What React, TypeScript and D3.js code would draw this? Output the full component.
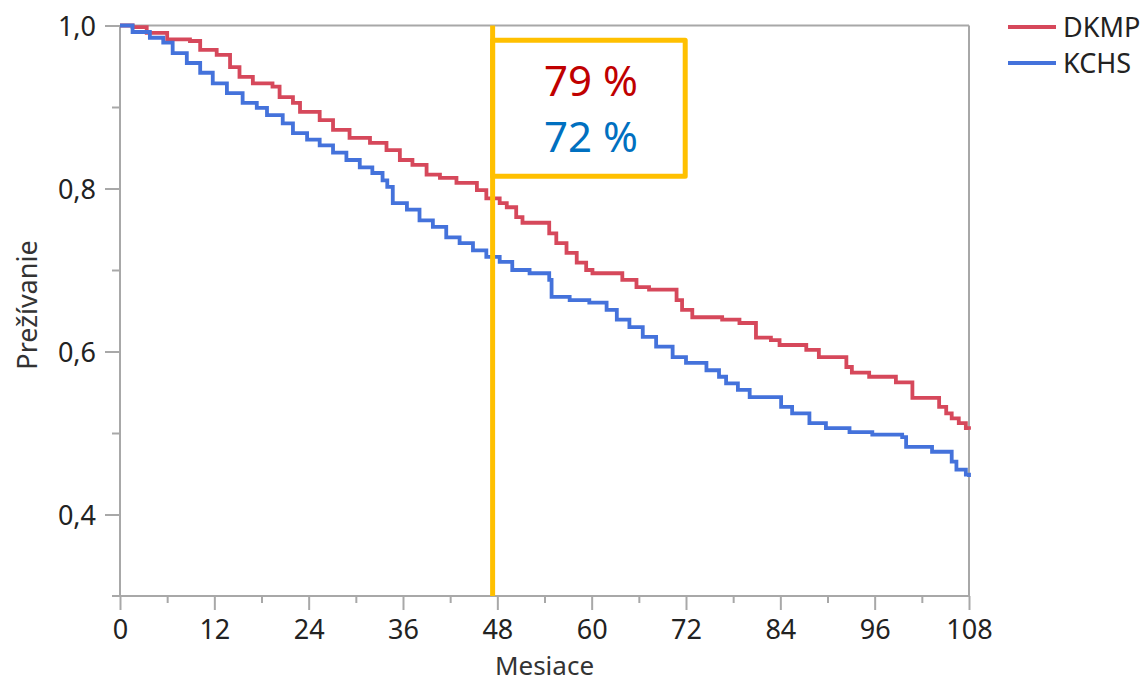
import React, { useEffect, useRef } from 'react'
import * as d3 from 'd3'

// Kaplan-Meier prezivanie, odcitane z obrazku
const dkmpMonths = [0,1.6,3.4,6.0,8.9,10.2,12.3,14.0,15.2,16.9,19.4,20.3,22.0,22.9,25.4,27.1,29.2,31.8,33.9,35.6,37.2,39.0,40.7,42.8,45.4,46.6,48.3,49.2,50.4,51.2,54.6,55.5,56.8,58.1,59.3,60.1,63.9,65.7,67.3,70.8,71.5,72.8,76.6,78.8,80.9,82.8,83.9,87.3,88.9,92.4,93.1,95.3,98.7,100.8,104.2,105.1,105.8,106.7,107.6,108]
const dkmpSurv = [1.0,0.998,0.991,0.983,0.981,0.970,0.964,0.949,0.937,0.929,0.925,0.912,0.905,0.894,0.884,0.872,0.862,0.856,0.847,0.835,0.829,0.817,0.813,0.807,0.798,0.788,0.782,0.777,0.765,0.758,0.745,0.733,0.721,0.709,0.700,0.696,0.688,0.679,0.676,0.663,0.651,0.642,0.639,0.635,0.617,0.614,0.608,0.602,0.593,0.581,0.574,0.569,0.562,0.543,0.532,0.524,0.518,0.512,0.506,0.504]

const kchsMonths = [0,1.6,3.8,5.5,6.7,8.5,10.2,11.8,13.6,15.6,17.4,18.7,20.7,22.0,23.8,25.4,27.1,28.8,30.5,32.1,33.4,34.0,34.7,36.5,38.1,39.8,41.5,43.2,44.9,46.6,48.3,49.9,52.1,54.6,54.9,57.2,59.7,61.9,63.2,64.8,66.5,68.2,70.3,72.0,74.6,76.2,77.1,78.6,80.1,84.1,85.5,87.7,89.8,92.8,95.7,99.5,100.0,103.3,105.8,106.4,107.6,108]
const kchsSurv = [1.0,0.992,0.985,0.979,0.966,0.954,0.942,0.929,0.917,0.905,0.899,0.890,0.880,0.868,0.860,0.853,0.844,0.835,0.826,0.819,0.810,0.802,0.782,0.774,0.761,0.753,0.740,0.733,0.724,0.716,0.710,0.700,0.696,0.688,0.667,0.663,0.660,0.651,0.639,0.630,0.618,0.606,0.593,0.586,0.577,0.569,0.561,0.553,0.544,0.532,0.524,0.512,0.506,0.501,0.498,0.495,0.483,0.477,0.465,0.455,0.449,0.446]

const seriesNames = ['DKMP', 'KCHS']
const seriesColors = ['#d6485b', '#4472db']

const xMajor = [0,12,24,36,48,60,72,84,96,108]
const xMinor = [6,18,30,42,54,66,78,90,102]
const yMajor = [0.4,0.6,0.8,1.0]
const yMinor = [0.5,0.7,0.9]

// anotacia: prezivanie v 48. mesiaci
const markMonth = 47.4
const boxMonthEnd = 71.9
const boxTop = 0.982
const boxBottom = 0.815
const boxLabels = ['79 %', '72 %']
const boxColors = ['#c00000', '#0070c0']

const FONT = '"Noto Sans", "Open Sans", sans-serif'
const AXIS = '#a8a8a8'

export default function App() {
  const ref = useRef<SVGSVGElement>(null)

  useEffect(() => {
    const svg = d3.select(ref.current)
    svg.selectAll('*').remove()

    const x = d3.scaleLinear().domain([0,108]).range([120,969])
    const y = d3.scaleLinear().domain([0.3,1.0]).range([596,25.5])

    // ramik
    svg.append('line').attr('x1',x(0)).attr('x2',x(108)).attr('y1',y(1)).attr('y2',y(1))
      .attr('stroke',AXIS).attr('stroke-width',2)
    svg.append('line').attr('x1',x(108)).attr('x2',x(108)).attr('y1',y(1)).attr('y2',y(0.3))
      .attr('stroke',AXIS).attr('stroke-width',2)

    const fmt = (d:any) => d3.format('.1f')(d).replace('.', ',')

    const yAx = svg.append('g').attr('transform',`translate(${x(0)},0)`)
      .call(d3.axisLeft(y).tickValues(yMajor).tickSize(15).tickPadding(9).tickFormat(fmt))
    const yMin = svg.append('g').attr('transform',`translate(${x(0)},0)`)
      .call(d3.axisLeft(y).tickValues(yMinor).tickSize(8).tickFormat(() => ''))
    const xAx = svg.append('g').attr('transform',`translate(0,${y(0.3)})`)
      .call(d3.axisBottom(x).tickValues(xMajor).tickSize(14).tickPadding(10).tickFormat(d3.format('d')))
    const xMin = svg.append('g').attr('transform',`translate(0,${y(0.3)})`)
      .call(d3.axisBottom(x).tickValues(xMinor).tickSize(7).tickFormat(() => ''))

    for (const g of [yAx, yMin, xAx, xMin]) {
      g.select('.domain').remove()
      g.selectAll('.tick line').attr('stroke',AXIS).attr('stroke-width',2)
      g.selectAll('text').attr('font-family',FONT).attr('font-size',27).attr('fill','#222')
    }
    yAx.selectAll('text').attr('dy','0.36em')
    xAx.selectAll('text').attr('dy','0.72em')

    svg.append('line').attr('x1',x(0)).attr('x2',x(0)).attr('y1',y(1)).attr('y2',y(0.3))
      .attr('stroke',AXIS).attr('stroke-width',2)
    svg.append('line').attr('x1',x(0)-8).attr('x2',x(108)).attr('y1',y(0.3)).attr('y2',y(0.3))
      .attr('stroke',AXIS).attr('stroke-width',2)

    // krivky
    const line = d3.line<[number,number]>().x(d => x(d[0])).y(d => y(d[1])).curve(d3.curveStepAfter)
    const data = [
      dkmpMonths.map((m,i) => [m, dkmpSurv[i]] as [number,number]),
      kchsMonths.map((m,i) => [m, kchsSurv[i]] as [number,number]),
    ]
    data.forEach((d,i) => {
      svg.append('path').attr('d', line(d)).attr('fill','none')
        .attr('stroke',seriesColors[i]).attr('stroke-width',3.8)
    })

    // oranzova ciara + box
    svg.append('line').attr('x1',x(markMonth)).attr('x2',x(markMonth)).attr('y1',y(1)).attr('y2',y(0.3))
      .attr('stroke','#ffc000').attr('stroke-width',5)
    svg.append('rect').attr('x',x(markMonth)).attr('y',y(boxTop))
      .attr('width',x(boxMonthEnd)-x(markMonth)).attr('height',y(boxBottom)-y(boxTop))
      .attr('fill','none').attr('stroke','#ffc000').attr('stroke-width',5).attr('stroke-linejoin','round')
    const cx = (x(markMonth)+x(boxMonthEnd))/2
    boxLabels.forEach((t,i) => {
      svg.append('text').attr('x',cx+2).attr('y',96+i*56).attr('text-anchor','middle')
        .attr('font-family',FONT).attr('font-size',42).attr('fill',boxColors[i]).text(t)
    })

    // popisy osi
    svg.append('text').attr('x',x(54)).attr('y',675).attr('text-anchor','middle')
      .attr('font-family',FONT).attr('font-size',26).attr('fill','#333').text('Mesiace')
    svg.append('text').attr('transform','translate(37,305) rotate(-90)').attr('text-anchor','middle')
      .attr('font-family',FONT).attr('font-size',27).attr('fill','#333').text('Prežívanie')

    // legenda
    seriesNames.forEach((n,i) => {
      svg.append('line').attr('x1',1008).attr('x2',1056).attr('y1',27+i*36).attr('y2',27+i*36)
        .attr('stroke',seriesColors[i]).attr('stroke-width',4)
      svg.append('text').attr('x',1063).attr('y',37+i*36)
        .attr('font-family',FONT).attr('font-size',27).attr('fill','#222').text(n)
    })
  }, [])

  return (
    <svg ref={ref} width={1146} height={685}
      style={{ position: 'absolute', left: 0, top: 0, background: '#fff' }} />
  )
}
